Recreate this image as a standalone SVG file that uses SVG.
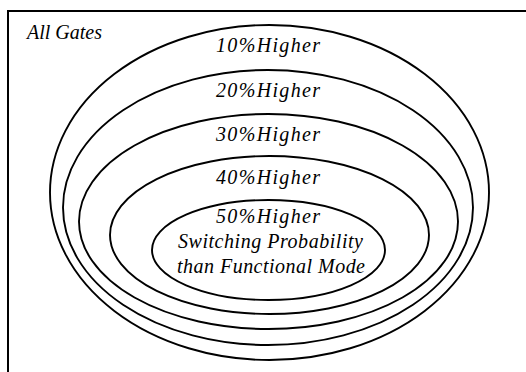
<svg xmlns="http://www.w3.org/2000/svg" width="526" height="372" viewBox="0 0 526 372">
<style>
.frame{fill:none;stroke:#000;stroke-width:2}
.ring{fill:none;stroke:#000;stroke-width:1.9}
.lbl{font-family:"Liberation Serif","Times New Roman",serif;font-style:italic;font-size:20px;fill:#000}
.mid{text-anchor:middle}
</style>
<rect width="526" height="372" fill="#fff"/>
<g id="frame">
<path class="frame" d="M8 372 V11 H526"/>
<text class="lbl" x="27" y="39" textLength="75" lengthAdjust="spacing">All Gates</text>
</g>
<g id="ring10">
<ellipse class="ring" cx="269.5" cy="192.5" rx="219.5" ry="167.5"/>
<text class="lbl mid" x="268" y="52" textLength="104" lengthAdjust="spacing">10%Higher</text>
</g>
<g id="ring20">
<ellipse class="ring" cx="268" cy="207.5" rx="205" ry="137.5"/>
<text class="lbl mid" x="268" y="97" textLength="104" lengthAdjust="spacing">20%Higher</text>
</g>
<g id="ring30">
<ellipse class="ring" cx="268.5" cy="221.5" rx="189.5" ry="107.5"/>
<text class="lbl mid" x="268" y="141" textLength="104" lengthAdjust="spacing">30%Higher</text>
</g>
<g id="ring40">
<ellipse class="ring" cx="269.5" cy="235" rx="159.5" ry="79"/>
<text class="lbl mid" x="268" y="184" textLength="104" lengthAdjust="spacing">40%Higher</text>
</g>
<g id="ring50">
<ellipse class="ring" cx="268.5" cy="250" rx="116.5" ry="50"/>
<text class="lbl mid" x="268" y="223" textLength="104" lengthAdjust="spacing">50%Higher</text>
<text class="lbl mid" x="270.5" y="248" textLength="185" lengthAdjust="spacing">Switching Probability</text>
<text class="lbl mid" x="271" y="273" textLength="188" lengthAdjust="spacing">than Functional Mode</text>
</g>
</svg>
